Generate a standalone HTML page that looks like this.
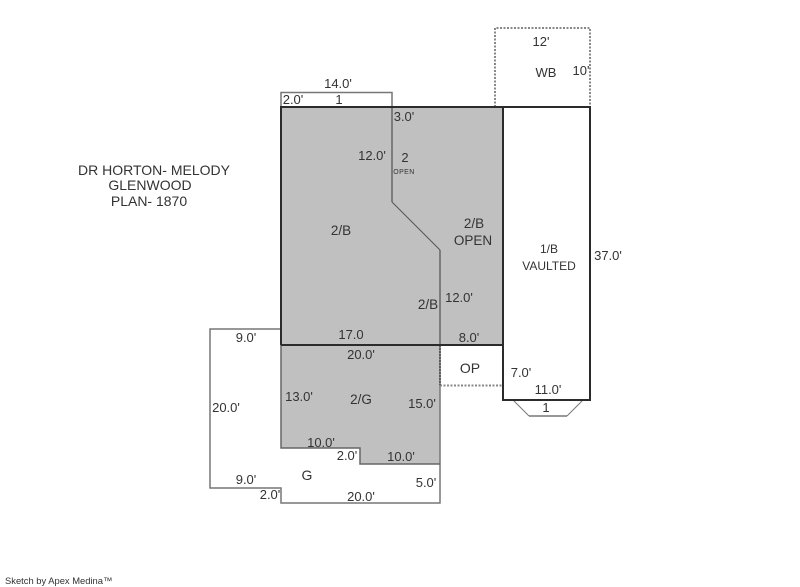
<!DOCTYPE html>
<html><head><meta charset="utf-8"><style>
html,body{margin:0;padding:0;background:#fff}
svg{display:block}
text{font-family:"Liberation Sans",Arial,sans-serif;font-size:13px;fill:#333;text-anchor:middle}
</style></head><body>
<svg width="800" height="587" viewBox="0 0 800 587" xmlns="http://www.w3.org/2000/svg">
<rect x="281" y="107" width="222" height="238" fill="#c0c0c0"/>
<polygon points="281,345 440,345 440,464 360,464 360,448 281,448" fill="#c0c0c0"/>
<g fill="none" stroke="#777" stroke-width="1.5">
<path d="M281,107V92.500H392V107"/>
<path d="M392,107V202" stroke="#666"/>
<path d="M392,202L440,250" stroke="#555" stroke-width="1"/>
<path d="M440,250V345" stroke="#666"/>
<path d="M281,329H210V488H281L281,503H440V345"/>
<path d="M281,345V448H360V464H440" stroke="#666"/>
<path d="M513,400L529,416M583,400L567,416" stroke-width="1"/>
</g>
<path d="M529,416H567" stroke="#777" stroke-width="1.5"/>
<path d="M495,107V28H590V107" fill="none" stroke="#888" stroke-width="2" stroke-dasharray="2 1.500"/>
<path d="M440,385.500H503" fill="none" stroke="#888" stroke-width="2" stroke-dasharray="2 1.500"/>
<path d="M440,345V385" fill="none" stroke="#444" stroke-width="1.500" stroke-dasharray="2 1"/>
<g fill="none" stroke="#2b2b2b" stroke-width="2">
<path d="M281,345V107H590V400H503V107"/>
<path d="M281,345H503V400"/>
</g>
<text x="338" y="88">14.0'</text>
<text x="293" y="104">2.0'</text>
<text x="339" y="104">1</text>
<text x="404" y="121">3.0'</text>
<text x="372" y="160">12.0'</text>
<text x="405" y="162">2</text>
<text x="404" y="174" style="font-size:7px;letter-spacing:.4px">OPEN</text>
<text x="341" y="235" style="font-size:13.500px">2/B</text>
<text x="474" y="228" style="font-size:13.500px">2/B</text>
<text x="473" y="245" style="font-size:13.500px">OPEN</text>
<text x="428" y="309" style="font-size:13.500px">2/B</text>
<text x="459" y="302">12.0'</text>
<text x="351" y="339">17.0</text>
<text x="469" y="342">8.0'</text>
<text x="246" y="342">9.0'</text>
<text x="361" y="359">20.0'</text>
<text x="470" y="373" style="font-size:14px">OP</text>
<text x="521" y="377">7.0'</text>
<text x="548" y="394">11.0'</text>
<text x="546" y="412">1</text>
<text x="299" y="401">13.0'</text>
<text x="361" y="404" style="font-size:13.500px">2/G</text>
<text x="422" y="408">15.0'</text>
<text x="226" y="412">20.0'</text>
<text x="321" y="447">10.0'</text>
<text x="347" y="460">2.0'</text>
<text x="401" y="461">10.0'</text>
<text x="307" y="480" style="font-size:14px">G</text>
<text x="246" y="484">9.0'</text>
<text x="426" y="487">5.0'</text>
<text x="270" y="499">2.0'</text>
<text x="361" y="501">20.0'</text>
<text x="549" y="253" style="font-size:12px">1/B</text>
<text x="549" y="270" style="font-size:12px">VAULTED</text>
<text x="608" y="260">37.0'</text>
<text x="541" y="46">12'</text>
<text x="546" y="77" style="font-size:13px">WB</text>
<text x="581" y="75">10'</text>
<text x="154" y="175" style="font-size:14px">DR HORTON- MELODY</text>
<text x="150" y="190" style="font-size:14px">GLENWOOD</text>
<text x="149" y="206" style="font-size:14px">PLAN- 1870</text>
<text x="5" y="584" style="text-anchor:start;font-size:9.400px">Sketch by Apex Medina™</text>
</svg>
</body></html>
